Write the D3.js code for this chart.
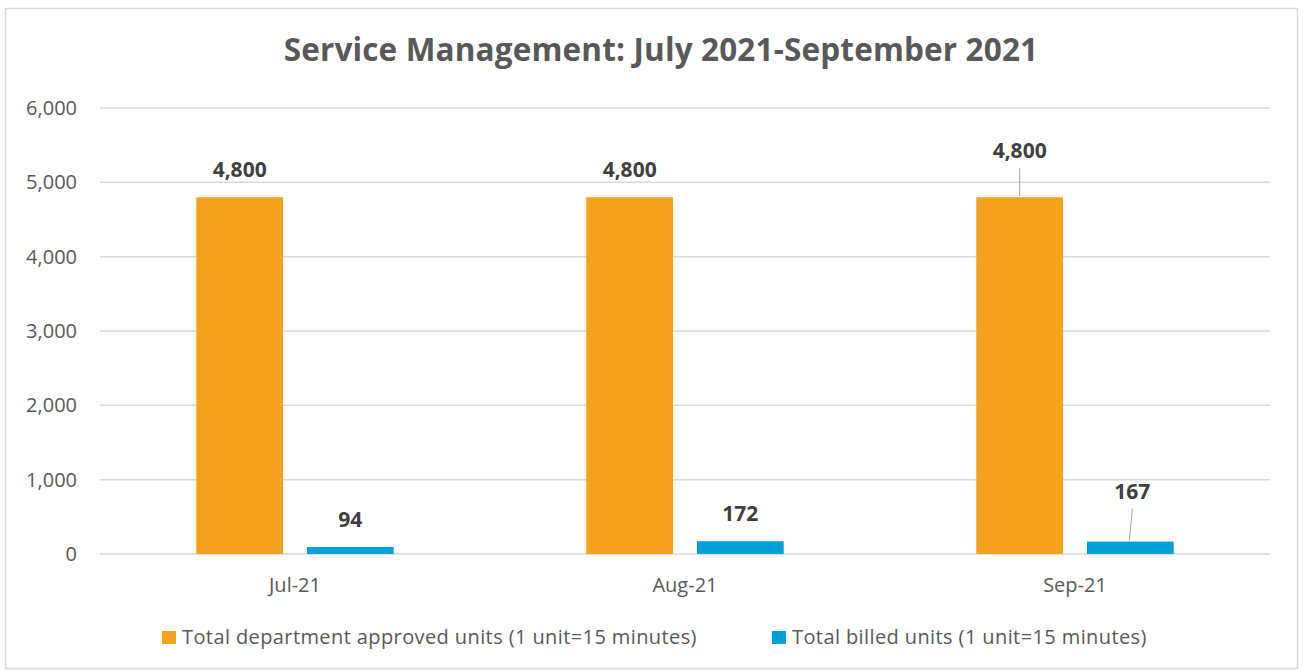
<!DOCTYPE html>
<html>
<head>
<meta charset="utf-8">
<script src="https://cdn.jsdelivr.net/npm/d3@7"></script>
<style>
  body { margin: 0; background: #fff; }
  text { font-family: "Open Sans", Lato, sans-serif; }
</style>
</head>
<body>
<div id="chart"></div>
<script>
// Chart data
const months = ['Jul-21', 'Aug-21', 'Sep-21'];
const seriesNames = ['Total department approved units (1 unit=15 minutes)', 'Total billed units (1 unit=15 minutes)'];
const approvedUnits = [4800, 4800, 4800];
const billedUnits = [94, 172, 167];
const yTicks = [0, 1000, 2000, 3000, 4000, 5000, 6000];
const colors = ['#F7A21E', '#00A0DA'];

const width = 1303, height = 671;
const margin = { top: 108, right: 33, bottom: 117, left: 100 };

const svg = d3.select('#chart').append('svg')
  .attr('width', width).attr('height', height);

// Outer frame
svg.append('rect')
  .attr('x', 5.5).attr('y', 8.5)
  .attr('width', 1292).attr('height', 660)
  .attr('fill', '#fff').attr('stroke', '#d9d9d9').attr('stroke-width', 1.5);

const x0 = d3.scaleBand().domain(months)
  .range([margin.left, width - margin.right])
  .paddingInner(0).paddingOuter(0);

const x1 = d3.scaleBand().domain([0, 1])
  .range([0, x0.bandwidth()])
  .paddingInner(0.217).paddingOuter(0.87);

const y = d3.scaleLinear().domain([0, 6000])
  .range([height - margin.bottom, margin.top]);

// Gridlines
svg.append('g').selectAll('line')
  .data(yTicks).enter().append('line')
  .attr('x1', margin.left).attr('x2', width - margin.right)
  .attr('y1', d => y(d)).attr('y2', d => y(d))
  .attr('stroke', '#d9d9d9').attr('stroke-width', 1.5);

// Y axis labels
svg.append('g').selectAll('text')
  .data(yTicks).enter().append('text')
  .attr('x', 77).attr('y', d => y(d) + 7)
  .attr('text-anchor', 'end')
  .attr('font-size', '20px').attr('fill', '#595959')
  .text(d => d3.format(',')(d));

// X axis labels
svg.append('g').selectAll('text')
  .data(months).enter().append('text')
  .attr('x', d => x0(d) + x0.bandwidth() / 2)
  .attr('y', 592)
  .attr('text-anchor', 'middle')
  .attr('font-size', '20px').attr('fill', '#595959')
  .text(d => d);

// Bars
const rows = months.map((m, i) => ({ month: m, values: [approvedUnits[i], billedUnits[i]] }));
const groups = svg.append('g').selectAll('g')
  .data(rows).enter().append('g')
  .attr('transform', d => `translate(${x0(d.month)},0)`);

groups.selectAll('rect')
  .data(d => d.values.map((v, s) => ({ s, v })))
  .enter().append('rect')
  .attr('x', d => x1(d.s)).attr('width', x1.bandwidth())
  .attr('y', d => y(d.v)).attr('height', d => y(0) - y(d.v))
  .attr('fill', d => colors[d.s]);

// Data labels (Sep-21 labels are lifted with leader lines)
const liftApproved = [0, 0, 19];
const liftBilled = [0, 0, 23];
const labelData = [];
rows.forEach((r, i) => {
  labelData.push({ month: r.month, s: 0, v: r.values[0], lift: liftApproved[i] });
  labelData.push({ month: r.month, s: 1, v: r.values[1], lift: liftBilled[i] });
});

const labels = svg.append('g');
labelData.forEach(d => {
  const cx = x0(d.month) + x1(d.s) + x1.bandwidth() / 2;
  const shift = d.lift > 0 && d.s === 1 ? 2 : 0;
  const base = y(d.v) - 20 - d.lift;
  if (d.lift > 0) {
    labels.append('line')
      .attr('x1', cx + shift).attr('y1', base + 10)
      .attr('x2', cx - shift / 2).attr('y2', y(d.v) - 1)
      .attr('stroke', '#a6a6a6').attr('stroke-width', 1);
  }
  labels.append('text')
    .attr('x', cx + shift).attr('y', base)
    .attr('text-anchor', 'middle')
    .attr('font-size', '21px').attr('font-weight', 'bold').attr('fill', '#404040')
    .text(d3.format(',')(d.v));
});

// Title
svg.append('text')
  .attr('x', 661).attr('y', 61)
  .attr('text-anchor', 'middle')
  .attr('font-size', '31.5px').attr('font-weight', 'bold').attr('fill', '#595959')
  .attr('letter-spacing', '0.15px')
  .text('Service Management: July 2021-September 2021');

// Legend
const legendX = [162, 772];
const legend = svg.append('g').selectAll('g')
  .data(seriesNames).enter().append('g')
  .attr('transform', (d, i) => `translate(${legendX[i]},631)`);
legend.append('rect')
  .attr('width', 14).attr('height', 13)
  .attr('fill', (d, i) => colors[i]);
legend.append('text')
  .attr('x', 20).attr('y', 13)
  .attr('font-size', '20px').attr('fill', '#595959')
  .attr('letter-spacing', '0.4px')
  .text(d => d);
</script>
</body>
</html>
